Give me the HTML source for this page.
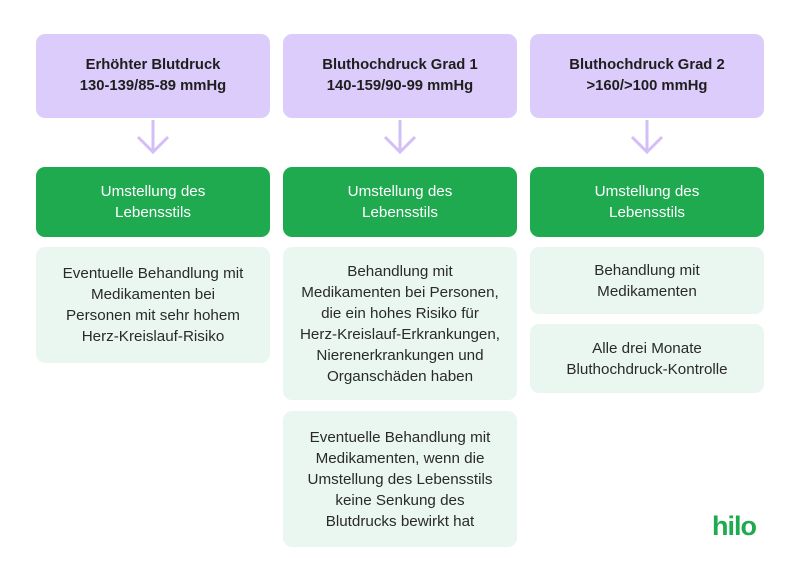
<!DOCTYPE html>
<html><head><style>
body{margin:0;width:800px;height:571px;background:#fff;position:relative;font-family:"Liberation Sans",sans-serif;overflow:hidden}
.b{position:absolute;display:flex;align-items:center;justify-content:center;text-align:center;border-radius:9px;font-size:15.2px;line-height:21px;color:#2a2a2a;box-sizing:border-box;padding:0 2px;white-space:nowrap}
.p{background:#dcccfb;font-weight:bold;color:#1e1e1e;font-size:14.8px}
.g{background:#1faa4f;color:#fff}
.l{background:#eaf7f1}
svg{position:absolute}
</style></head><body>
<div class="b p" style="left:36px;top:34px;width:234px;height:84px">Erhöhter Blutdruck<br>130-139/85-89 mmHg</div>
<div class="b p" style="left:283px;top:34px;width:234px;height:84px">Bluthochdruck Grad 1<br>140-159/90-99 mmHg</div>
<div class="b p" style="left:530px;top:34px;width:234px;height:84px">Bluthochdruck Grad 2<br>&gt;160/&gt;100 mmHg</div>
<svg width="800" height="571" style="left:0;top:0">
<g stroke="#d3bff7" stroke-width="3" fill="none">
<path d="M153 120V152M138 137L153 152L168 137"/>
<path d="M400 120V152M385 137L400 152L415 137"/>
<path d="M647 120V152M632 137L647 152L662 137"/>
</g></svg>
<div class="b g" style="left:36px;top:167px;width:234px;height:70px">Umstellung des<br>Lebensstils</div>
<div class="b g" style="left:283px;top:167px;width:234px;height:70px">Umstellung des<br>Lebensstils</div>
<div class="b g" style="left:530px;top:167px;width:234px;height:70px">Umstellung des<br>Lebensstils</div>
<div class="b l" style="left:36px;top:247px;width:234px;height:116px">Eventuelle Behandlung mit<br>Medikamenten bei<br>Personen mit sehr hohem<br>Herz-Kreislauf-Risiko</div>
<div class="b l" style="left:283px;top:247px;width:234px;height:153px">Behandlung mit<br>Medikamenten bei Personen,<br>die ein hohes Risiko für<br>Herz-Kreislauf-Erkrankungen,<br>Nierenerkrankungen und<br>Organschäden haben</div>
<div class="b l" style="left:283px;top:411px;width:234px;height:136px">Eventuelle Behandlung mit<br>Medikamenten, wenn die<br>Umstellung des Lebensstils<br>keine Senkung des<br>Blutdrucks bewirkt hat</div>
<div class="b l" style="left:530px;top:247px;width:234px;height:67px">Behandlung mit<br>Medikamenten</div>
<div class="b l" style="left:530px;top:324px;width:234px;height:69px">Alle drei Monate<br>Bluthochdruck-Kontrolle</div>
<div style="position:absolute;left:712px;top:511px;font-size:27px;font-weight:bold;color:#1faa4f;letter-spacing:-1px;line-height:30px">hilo</div>
</body></html>
